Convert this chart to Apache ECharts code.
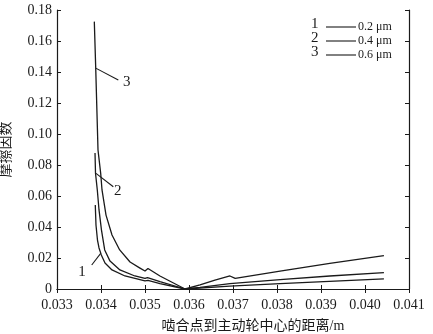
<!DOCTYPE html>
<html>
<head>
<meta charset="utf-8">
<script src="https://cdn.jsdelivr.net/npm/echarts@6/dist/echarts.min.js"></script>
<style>
  html, body { margin: 0; padding: 0; background: #fff; }
  #chart { width: 433px; height: 334px; }
</style>
</head>
<body>
<div id="chart"></div>
<script>
// Distance from mesh point to driving wheel centre (m) and friction coefficient
const curve1X = [0.03387, 0.033886, 0.03392, 0.033955, 0.034007, 0.034091, 0.03425, 0.034545, 0.035, 0.035068, 0.03534, 0.03591, 0.03693, 0.03807, 0.04043];
const curve1Y = [0.0542, 0.0413, 0.0316, 0.0265, 0.022, 0.0168, 0.0123, 0.0084, 0.0052, 0.0055, 0.0035, 0.0, 0.0019, 0.0035, 0.0065];

const curve2X = [0.033864, 0.033875, 0.033916, 0.033955, 0.034011, 0.034084, 0.034205, 0.03443, 0.03477, 0.035, 0.035057, 0.03534, 0.03591, 0.03625, 0.03693, 0.03807, 0.0392, 0.04043];
const curve2Y = [0.0877, 0.0748, 0.0639, 0.051, 0.038, 0.0252, 0.018, 0.0123, 0.0084, 0.0068, 0.0074, 0.0048, 0.0, 0.001, 0.0035, 0.0061, 0.0084, 0.0105];

const curve3X = [0.033848, 0.03388, 0.033932, 0.033993, 0.034023, 0.034114, 0.03425, 0.034425, 0.03466, 0.034886, 0.035, 0.035068, 0.03534, 0.03591, 0.03625, 0.03659, 0.03693, 0.03705, 0.03807, 0.0392, 0.04043];
const curve3Y = [0.1725, 0.1425, 0.0897, 0.0746, 0.0639, 0.0477, 0.0348, 0.0252, 0.0174, 0.0135, 0.0116, 0.0132, 0.0084, 0.0, 0.0026, 0.0058, 0.0084, 0.0068, 0.0116, 0.0166, 0.0215];

const curveIds = ['1', '2', '3'];
const roughness = ['0.2 μm', '0.4 μm', '0.6 μm'];

// Leader lines: [start on curve, end next to the label]
const leaders = [
  [[0.033993, 0.023], [0.033789, 0.0155]],
  [[0.033886, 0.0746], [0.03428, 0.066]],
  [[0.03388, 0.1425], [0.034393, 0.1348]]
];

const xTicks = { min: 0.033, max: 0.041, interval: 0.001 };
const yTicks = { min: 0, max: 0.18, interval: 0.02 };

const serif = '"Liberation Serif", "Times New Roman", serif';
const cjk = '"Liberation Serif", "Noto Sans CJK SC", serif';
const ink = '#1a1a1a';

function pairs(xs, ys) { return xs.map((x, i) => [x, ys[i]]); }

const curves = [pairs(curve1X, curve1Y), pairs(curve2X, curve2Y), pairs(curve3X, curve3Y)];
const leaderLabelPos = [
  { position: 'end', offset: [-8, 5] },
  { position: 'end', offset: [2, 3] },
  { position: 'end', offset: [2, 1] }
];

const series = curves.map((data, i) => ({
  type: 'line',
  name: curveIds[i],
  data: data,
  symbol: 'none',
  smooth: false,
  lineStyle: { color: ink, width: 1.3, join: 'round' },
  z: 3,
  markLine: {
    silent: true,
    symbol: 'none',
    lineStyle: { color: ink, width: 1.1, type: 'solid' },
    label: {
      show: true,
      formatter: curveIds[i],
      color: ink,
      fontFamily: serif,
      fontSize: 15,
      position: leaderLabelPos[i].position,
      offset: leaderLabelPos[i].offset,
      distance: 3
    },
    data: [[{ coord: leaders[i][0] }, { coord: leaders[i][1] }]]
  }
}));

const chart = echarts.init(document.getElementById('chart'), null, { renderer: 'canvas' });

const axisLine = { show: true, lineStyle: { color: ink, width: 1.2 } };
const tickInside = { show: true, inside: true, length: 4, lineStyle: { color: ink, width: 1 } };

// Legend: number, short line, roughness value
const legendGraphics = [];
curveIds.forEach((id, i) => {
  const y = 25 + i * 14;
  legendGraphics.push(
    { type: 'text', left: 311, top: y - 8, style: { text: id, font: '15px ' + serif, fill: ink } },
    { type: 'line', shape: { x1: 326, y1: y + 2, x2: 356, y2: y + 2 }, style: { stroke: ink, lineWidth: 1.1 } },
    { type: 'text', left: 358, top: y - 4, style: { text: roughness[i], font: '12px ' + serif, fill: ink } }
  );
});

chart.setOption({
  animation: false,
  backgroundColor: '#fff',
  grid: { left: 57, top: 10, right: 24, bottom: 45, containLabel: false, outerBoundsMode: 'none' },
  xAxis: [
    {
      type: 'value',
      min: xTicks.min, max: xTicks.max, interval: xTicks.interval,
      name: '啮合点到主动轮中心的距离/m',
      nameLocation: 'middle',
      nameGap: 30,
      nameTextStyle: { color: ink, fontFamily: cjk, fontSize: 14, padding: [0, 0, 0, 40] },
      axisLine: axisLine,
      axisTick: tickInside,
      splitLine: { show: false },
      axisLabel: {
        color: ink, fontFamily: serif, fontSize: 14, margin: 9,
        formatter: v => v.toFixed(3)
      }
    },
    {
      type: 'value', position: 'top',
      min: xTicks.min, max: xTicks.max, interval: xTicks.interval,
      axisLine: axisLine, axisTick: tickInside,
      axisLabel: { show: false }, splitLine: { show: false }
    }
  ],
  yAxis: [
    {
      type: 'value',
      min: yTicks.min, max: yTicks.max, interval: yTicks.interval,
      name: '摩擦因数',
      nameLocation: 'middle',
      nameGap: 44,
      nameTextStyle: { color: ink, fontFamily: cjk, fontSize: 14 },
      axisLine: axisLine,
      axisTick: tickInside,
      splitLine: { show: false },
      axisLabel: {
        color: ink, fontFamily: serif, fontSize: 14, margin: 5,
        formatter: v => (v === 0 ? '0' : v.toFixed(2))
      }
    },
    {
      type: 'value', position: 'right',
      min: yTicks.min, max: yTicks.max, interval: yTicks.interval,
      axisLine: axisLine, axisTick: tickInside,
      axisLabel: { show: false }, splitLine: { show: false }
    }
  ],
  graphic: legendGraphics,
  series: series
});
</script>
</body>
</html>
